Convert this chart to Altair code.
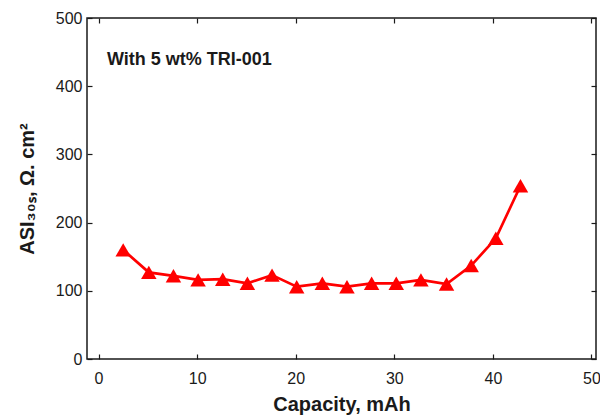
import altair as alt
import pandas as pd

capacity = [2.5, 5.1, 7.6, 10.1, 12.6, 15.1, 17.6, 20.1, 22.7, 25.2, 27.7, 30.2, 32.7, 35.3, 37.8, 40.3, 42.8]
asi = [160, 127, 122, 116, 117, 111, 123, 106, 111, 106, 111, 111, 116, 110, 137, 177, 254]
x_ticks = [0, 10, 20, 30, 40, 50]
y_ticks = [0, 100, 200, 300, 400, 500]

df = pd.DataFrame({"cap": capacity, "asi": asi})

FONT = "Liberation Sans"
RED = "#ff0000"
INK = "#1a1a1a"

xs = alt.Scale(domain=[-1.17, 50.46], nice=False, zero=False)
ys = alt.Scale(domain=[0, 500], nice=False)

x_bottom = alt.Axis(
    orient="bottom", values=x_ticks, tickSize=5, offset=-5,
    tickColor=INK, domain=False, grid=False, labelFontSize=16, labelFont=FONT,
    labelColor=INK, labelPadding=11, title="Capacity, mAh", titleFont=FONT,
    titleFontSize=20, titleFontWeight="bold", titleColor=INK, titlePadding=8,
)
y_left = alt.Axis(
    orient="left", values=y_ticks, tickSize=5, offset=-5,
    tickColor=INK, domain=False, grid=False, labelFontSize=16, labelFont=FONT,
    labelColor=INK, labelPadding=5, title="ASI₃₀ₛ, Ω. cm²", titleFont=FONT,
    titleFontSize=20, titleFontWeight="bold", titleColor=INK, titlePadding=18,
)
x_top = alt.Axis(orient="top", values=x_ticks, labels=False, tickSize=5, offset=-5,
                 tickColor=INK, domain=False, grid=False, title=None)
y_right = alt.Axis(orient="right", values=y_ticks, labels=False, tickSize=5, offset=-5,
                   tickColor=INK, domain=False, grid=False, title=None)

base = alt.Chart(df)

line = base.mark_line(color=RED, strokeWidth=2.7).encode(
    x=alt.X("cap:Q", scale=xs, axis=x_bottom),
    y=alt.Y("asi:Q", scale=ys, axis=y_left),
)
pts = base.mark_point(shape="triangle-up", filled=True, color=RED, size=240, opacity=1).encode(
    x=alt.X("cap:Q", scale=xs, axis=x_top),
    y=alt.Y("asi:Q", scale=ys, axis=y_right),
)

label = alt.Chart(pd.DataFrame({"t": ["With 5 wt% TRI-001"]})).mark_text(
    align="left", baseline="middle", font=FONT, fontSize=18, fontWeight="bold", color=INK
).encode(x=alt.value(20), y=alt.value(42), text="t:N")

chart = alt.layer(line, pts, label).resolve_axis(x="independent", y="independent").properties(
    width=509, height=341,
    padding={"left": 79, "top": 10, "right": 4, "bottom": 56},
    autosize=alt.AutoSizeParams(type="none"),
).configure_view(stroke=INK, strokeWidth=1.5).configure_axis(tickWidth=1.2)

chart.save("out.html", embed_options={"renderer": "svg", "actions": False})
